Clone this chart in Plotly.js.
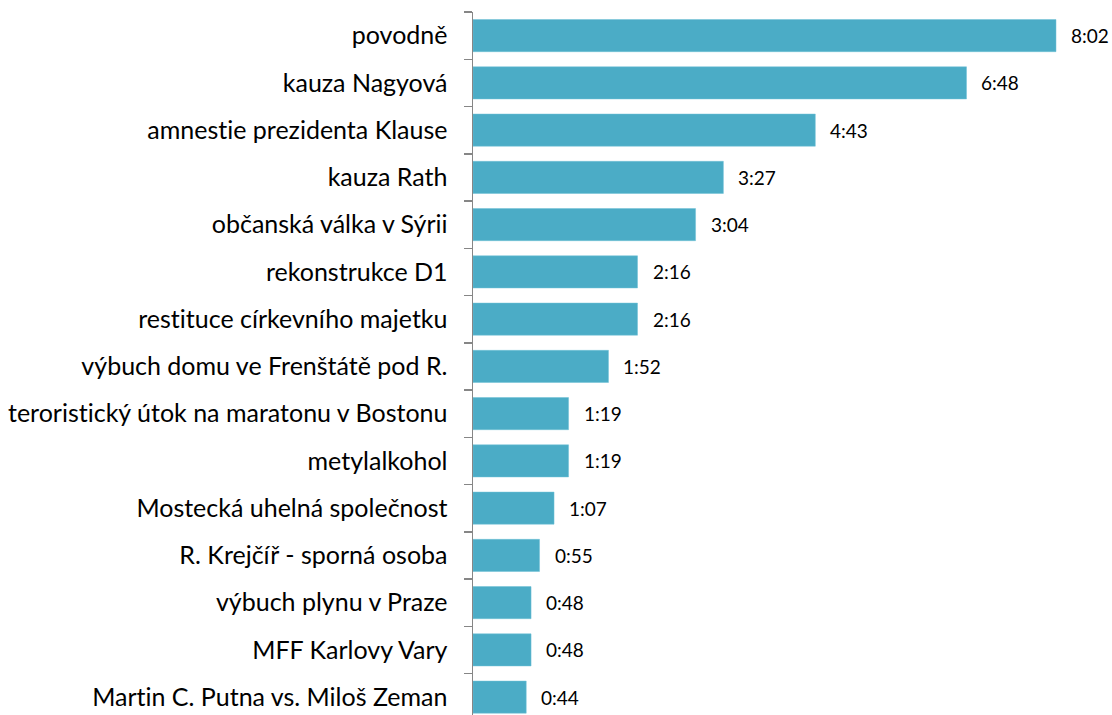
<!DOCTYPE html>
<html><head><meta charset="utf-8">
<script src="https://cdn.plot.ly/plotly-3.0.1.min.js"></script>
<style>html,body{margin:0;padding:0;background:#fff;}#chart{width:1112px;height:715px;}#chart text{font-variant-ligatures:none;font-feature-settings:"liga" 0;}</style>
</head><body><div id="chart"></div>
<script>
const categories = ["povodně","kauza Nagyová","amnestie prezidenta Klause","kauza Rath","občanská válka v Sýrii","rekonstrukce D1","restituce církevního majetku","výbuch domu ve Frenštátě pod R.","teroristický útok na maratonu v Bostonu","metylalkohol","Mostecká uhelná společnost","R. Krejčíř - sporná osoba","výbuch plynu v Praze","MFF Karlovy Vary","Martin C. Putna vs. Miloš Zeman"];
const durationLabels = ["8:02","6:48","4:43","3:27","3:04","2:16","2:16","1:52","1:19","1:19","1:07","0:55","0:48","0:48","0:44"];
const seconds = durationLabels.map(s => { const p = s.split(":"); return (+p[0])*60 + (+p[1]); });

const trace = {
  type: "bar", orientation: "h",
  x: seconds, y: categories,
  marker: {color: "#4BACC6", line: {color: "#6FC0D6", width: 0.5}},
  width: 0.68, hoverinfo: "none"
};
const annotations = categories.map((c, i) => ({
  x: seconds[i], y: c, xref: "x", yref: "y", text: durationLabels[i],
  showarrow: false, xanchor: "left", xshift: 13,
  font: {family: "Lato, 'Open Sans', sans-serif", size: 19, color: "#000"}
}));
const layout = {
  width: 1112, height: 715,
  margin: {l: 473, r: 4, t: 12, b: 0},
  paper_bgcolor: "#fff", plot_bgcolor: "#fff",
  showlegend: false,
  xaxis: {range: [0, 525], visible: false, showgrid: false, zeroline: false, fixedrange: true},
  yaxis: {
    type: "category", range: [14.378, -0.5], autorange: false,
    showline: true, linecolor: "#868686", linewidth: 1.5,
    ticks: "outside", tickson: "boundaries", ticklen: 8, tickcolor: "#868686", tickwidth: 1.5,
    ticklabelstandoff: 19,
    showgrid: false, zeroline: false,
    tickfont: {family: "Lato, 'Open Sans', sans-serif", size: 25, color: "#000"}
  },
  annotations: annotations
};
Plotly.newPlot("chart", [trace], layout, {displayModeBar: false, staticPlot: true});
</script></body></html>
